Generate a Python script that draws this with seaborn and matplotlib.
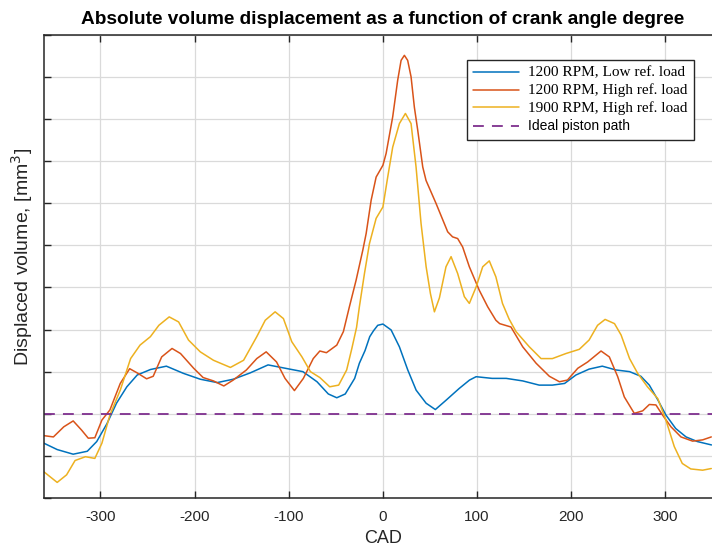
import matplotlib
matplotlib.use("Agg")
import matplotlib.pyplot as plt
import numpy as np
import pandas as pd
import seaborn as sns

# Crank angle (deg) and displaced volume (grid units) for each run
low_1200_cad = [-360, -346, -329, -314, -304, -293, -283, -272, -261, -247, -230,
                -212, -194, -176, -159, -141, -122, -99, -85, -70, -58, -49, -40,
                -30, -25, -19, -14, -10, -5.5, 0, 8.7, 17.5, 26.4, 35.3, 45.9,
                55.7, 67, 81, 92, 99, 116, 131, 148.5, 166, 180, 193, 205, 219,
                233, 247.5, 262, 274, 283, 292, 300.6, 311, 322, 334, 349]
low_1200_vol = [1.30, 1.15, 1.04, 1.11, 1.34, 1.77, 2.25, 2.64, 2.92, 3.05, 3.13,
                2.96, 2.82, 2.74, 2.82, 2.97, 3.16, 3.06, 3.00, 2.76, 2.47, 2.38, 2.47,
                2.84, 3.20, 3.50, 3.83, 3.97, 4.10, 4.13, 3.99, 3.59, 3.04, 2.56, 2.25,
                2.10, 2.32, 2.60, 2.80, 2.88, 2.84, 2.84, 2.78, 2.68, 2.68, 2.72, 2.92, 3.06,
                3.13, 3.04, 3.00, 2.89, 2.68, 2.33, 1.97, 1.65, 1.45, 1.34, 1.26]

high_1200_cad = [-360, -350, -339, -329, -320, -313, -306, -298.5, -290, -279, -269,
                 -261, -251, -244, -235, -224, -215, -201, -191, -180, -169, -159,
                 -145, -134, -124, -113, -104, -94, -84.5, -74, -67, -60, -49, -42,
                 -35.6, -28.5, -21.4, -17.8, -12.5, -7.2, 0, 3.4, 10.4, 15.7, 19.3,
                 22.8, 26.3, 29.9, 33.4, 37, 42.3, 45.8, 56.5, 68.8, 74, 79.4, 84.7,
                 91.8, 102.4, 111.3, 120, 124, 136, 148.5, 162.7, 176.8, 187.5, 196,
                 207, 217.5, 231.7, 240.5, 249.4, 256.4, 267, 276, 283, 290, 297,
                 306, 316.6, 329, 339.6, 348.8]
high_1200_vol = [1.48, 1.45, 1.69, 1.83, 1.61, 1.42, 1.43, 1.85, 2.09, 2.72, 3.07,
                 2.97, 2.83, 2.89, 3.35, 3.55, 3.43, 3.08, 2.86, 2.78, 2.66, 2.80,
                 3.04, 3.31, 3.47, 3.23, 2.84, 2.55, 2.84, 3.31, 3.49, 3.45, 3.63, 3.95,
                 4.54, 5.17, 5.88, 6.28, 7.07, 7.62, 7.90, 8.18, 9.05, 9.92, 10.39,
                 10.51, 10.39, 10.00, 9.28, 8.73, 7.86, 7.54, 6.99, 6.32, 6.20, 6.16, 5.96,
                 5.49, 4.93, 4.54, 4.22, 4.14, 4.06, 3.59, 3.20, 2.89, 2.76, 2.80,
                 3.08, 3.23, 3.49, 3.35, 2.88, 2.40, 2.01, 2.07, 2.22, 2.21, 1.97,
                 1.69, 1.45, 1.35, 1.38, 1.45]

high_1900_cad = [-360, -346, -336, -327, -316, -306, -298.5, -290, -279, -268, -258,
                 -247, -238, -227, -217, -206.5, -194, -180, -162, -148, -134, -125,
                 -114.5, -105.7, -96.8, -86, -77, -67, -56.5, -47, -38.5, -33, -28,
                 -25, -19.6, -14.3, -7.2, 0, 5.1, 10.4, 17.5, 23.9, 29.9, 35.2, 40.5,
                 45.9, 50.5, 54.7, 60, 67, 72.4, 79.4, 86.5, 91.8, 99, 106, 113, 120,
                 127, 134, 141.4, 155.5, 168, 180, 194.4, 208.6, 219, 228, 236, 246,
                 253, 262, 270.6, 281, 292, 300.6, 309.5, 318, 327, 339.6, 348.8]
high_1900_vol = [0.62, 0.37, 0.55, 0.89, 0.98, 0.94, 1.30, 1.97, 2.56, 3.31, 3.63,
                 3.83, 4.10, 4.30, 4.18, 3.75, 3.47, 3.27, 3.10, 3.27, 3.83, 4.22,
                 4.42, 4.26, 3.71, 3.35, 3.00, 2.86, 2.64, 2.68, 3.04, 3.55, 4.05,
                 4.54, 5.33, 6.04, 6.64, 6.91, 7.62, 8.33, 8.89, 9.13, 8.89, 7.86, 6.52,
                 5.49, 4.85, 4.42, 4.75, 5.49, 5.73, 5.33, 4.78, 4.62, 5.01, 5.49, 5.63, 5.25,
                 4.62, 4.25, 3.95, 3.59, 3.31, 3.31, 3.43, 3.53, 3.75, 4.10, 4.24, 4.14,
                 3.87, 3.31, 2.96, 2.64, 2.36, 1.85, 1.22, 0.82, 0.69, 0.66, 0.70]

ideal_cad = [-360, 360]
ideal_vol = [2.0, 2.0]

series_labels = ["1200 RPM, Low ref. load", "1200 RPM, High ref. load",
                 "1900 RPM, High ref. load", "Ideal piston path"]
x_ticks = [-300, -200, -100, 0, 100, 200, 300]

sns.set_theme(style="whitegrid")
plt.rcParams["font.family"] = ["Liberation Sans", "DejaVu Sans"]
plt.rcParams["axes.unicode_minus"] = False

colors = ["#0072BD", "#D95319", "#EDB120", "#7E2F8E"]
axis_color = "#262626"

fig = plt.figure(figsize=(7.12, 5.49), dpi=100)
# axes runs past the right edge of the figure, so the +360 end is cropped
ax = fig.add_axes([0.0618, 0.0929, 0.952, 0.8439])

runs = [(low_1200_cad, low_1200_vol), (high_1200_cad, high_1200_vol),
        (high_1900_cad, high_1900_vol)]
for (cad, vol), lab, col in zip(runs, series_labels[:3], colors[:3]):
    df = pd.DataFrame({"CAD": cad, "vol": vol})
    sns.lineplot(data=df, x="CAD", y="vol", ax=ax, color=col, lw=1.1,
                 label=lab, sort=False)

sns.lineplot(x=ideal_cad, y=ideal_vol, ax=ax, color=colors[3], lw=1.3,
             label=series_labels[3], linestyle=(0, (6, 4.5)))

ax.set_xlim(-360, 360)
ax.set_ylim(0, 11)
ax.set_xticks(x_ticks)
ax.set_yticks(np.arange(0, 12, 1))
ax.set_yticklabels([])
ax.tick_params(axis="both", direction="in", length=5, width=1,
               color=axis_color, labelcolor=axis_color, labelsize=11,
               top=True, right=True, left=True, bottom=True, pad=9)
ax.grid(True, color="#dadada", lw=0.9)
ax.set_facecolor("white")
for sp in ax.spines.values():
    sp.set_color(axis_color)
    sp.set_linewidth(1.1)

ax.set_xlabel("CAD", fontsize=13, color=axis_color, labelpad=4)
ax.set_ylabel("Displaced volume, [mm$^3$]", fontsize=14, color=axis_color)
ax.yaxis.set_label_coords(-0.0133, 0.52)
ax.set_title("Absolute volume displacement as a function of crank angle degree",
             fontsize=13.7, fontweight="bold", color="black", pad=8)

leg = ax.legend(loc="upper left", bbox_to_anchor=(0.624, 0.945), frameon=True,
                fancybox=False, framealpha=1, edgecolor=axis_color,
                borderpad=0.45, labelspacing=0.3, handlelength=3.3,
                handletextpad=0.65, borderaxespad=0, fontsize=10)
leg.get_frame().set_linewidth(1.0)
for i, t in enumerate(leg.get_texts()):
    if i < 3:
        t.set_fontfamily(["Liberation Serif", "DejaVu Serif"])
        t.set_fontsize(11)
    else:
        t.set_fontfamily(["Liberation Sans", "DejaVu Sans"])
        t.set_fontsize(10)
    t.set_color("black")

fig.savefig("out.png", dpi=100)
